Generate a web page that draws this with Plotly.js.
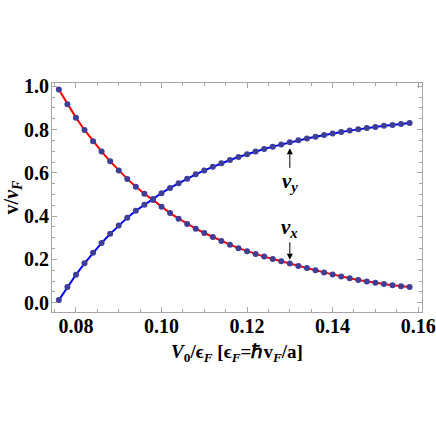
<!DOCTYPE html>
<html>
<head>
<meta charset="utf-8">
<script src="https://cdn.plot.ly/plotly-3.0.1.min.js"></script>
<style>html,body{margin:0;padding:0;background:#fff;}#chart{width:436px;height:436px;}</style>
</head>
<body>
<div id="chart"></div>
<script>
const xVals = [0.076,0.078,0.080,0.082,0.084,0.086,0.088,0.090,0.092,0.094,
  0.096,0.098,0.100,0.102,0.104,0.106,0.108,0.110,0.112,0.114,
  0.116,0.118,0.120,0.122,0.124,0.126,0.128,0.130,0.132,0.134,
  0.136,0.138,0.140,0.142,0.144,0.146,0.148,0.150,0.152,0.154,
  0.156,0.158];
const vxVals = [0.985,0.917,0.855,0.798,0.746,0.698,0.653,0.611,0.572,0.536,
  0.503,0.475,0.443,0.414,0.388,0.364,0.342,0.322,0.303,0.285,
  0.268,0.252,0.238,0.225,0.213,0.202,0.191,0.181,0.170,0.160,
  0.150,0.140,0.130,0.121,0.113,0.105,0.098,0.092,0.086,0.081,
  0.076,0.072];
const vyVals = [0.012,0.072,0.129,0.182,0.231,0.276,0.318,0.357,0.393,0.425,
  0.453,0.479,0.506,0.530,0.552,0.573,0.593,0.611,0.628,0.644,
  0.659,0.673,0.686,0.698,0.710,0.721,0.731,0.741,0.750,0.759,
  0.767,0.775,0.782,0.789,0.795,0.801,0.807,0.812,0.817,0.821,
  0.826,0.830];
const xTicks = [0.08,0.10,0.12,0.14,0.16];
const xTickText = ['0.08','0.10','0.12','0.14','0.16'];
const yTicks = [0.0,0.2,0.4,0.6,0.8,1.0];
const yTickText = ['0.0','0.2','0.4','0.6','0.8','1.0'];
const labelX = 0.13;
const labelVy = 0.713;
const labelVx = 0.198;

const markerStyle = {size:6, color:'rgb(62,62,150)'};
const traces = [
  {x:xVals, y:vxVals, mode:'lines', line:{color:'#ff0000', width:2}, hoverinfo:'skip'},
  {x:xVals, y:vyVals, mode:'lines', line:{color:'#0000ff', width:2}, hoverinfo:'skip'},
  {x:xVals, y:vxVals, mode:'markers', marker:markerStyle},
  {x:xVals, y:vyVals, mode:'markers', marker:markerStyle}
];
const serif = '"Times New Roman", "Liberation Serif", serif';
const axisCommon = {
  showline:true, linecolor:'#a6a6a6', linewidth:1, mirror:'ticks',
  ticks:'inside', ticklen:5, tickcolor:'#a6a6a6', tickwidth:1,
  showgrid:false, zeroline:false,
  tickfont:{family:serif, size:20, color:'#000', weight:700}
};
const layout = {
  width:436, height:436,
  margin:{l:52, r:14, t:83, b:124},
  paper_bgcolor:'#fff', plot_bgcolor:'#fff',
  showlegend:false,
  font:{family:serif},
  xaxis:Object.assign({}, axisCommon, {
    range:[0.0744,0.1609], tickmode:'array', tickvals:xTicks, ticktext:xTickText,
    ticklabelstandoff:-4,
    minor:{dtick:0.005, ticks:'inside', ticklen:3, tickcolor:'#a6a6a6', showgrid:false},
    title:{text:'<i>V</i><sub>0</sub>/ϵ<sub><i>F</i></sub> [ϵ<sub><i>F</i></sub>=ℏv<sub><i>F</i></sub>/a]',
      font:{family:serif, size:19, color:'#000', weight:700}, standoff:8}
  }),
  yaxis:Object.assign({}, axisCommon, {
    range:[-0.043,1.015], tickmode:'array', tickvals:yTicks, ticktext:yTickText,
    ticklabelstandoff:-2,
    minor:{dtick:0.05, ticks:'inside', ticklen:3, tickcolor:'#a6a6a6', showgrid:false},
    title:{text:'v/<i>v</i><sub><i>F</i></sub>',
      font:{family:serif, size:20, color:'#000', weight:700}, standoff:5}
  }),
  annotations:[
    {x:labelX, y:labelVy, xref:'x', yref:'y', ax:0, ay:34,
     text:'<i>v</i><sub><i>y</i></sub>', showarrow:true, arrowhead:2, arrowsize:1.2, arrowwidth:1, arrowcolor:'#000',
     font:{family:serif, size:21, color:'#000', weight:700}},
    {x:labelX, y:labelVx, xref:'x', yref:'y', ax:0, ay:-32,
     text:'<i>v</i><sub><i>x</i></sub>', showarrow:true, arrowhead:2, arrowsize:1.2, arrowwidth:1, arrowcolor:'#000',
     font:{family:serif, size:21, color:'#000', weight:700}}
  ]
};
Plotly.newPlot('chart', traces, layout, {staticPlot:true, displayModeBar:false});
</script>
</body>
</html>
